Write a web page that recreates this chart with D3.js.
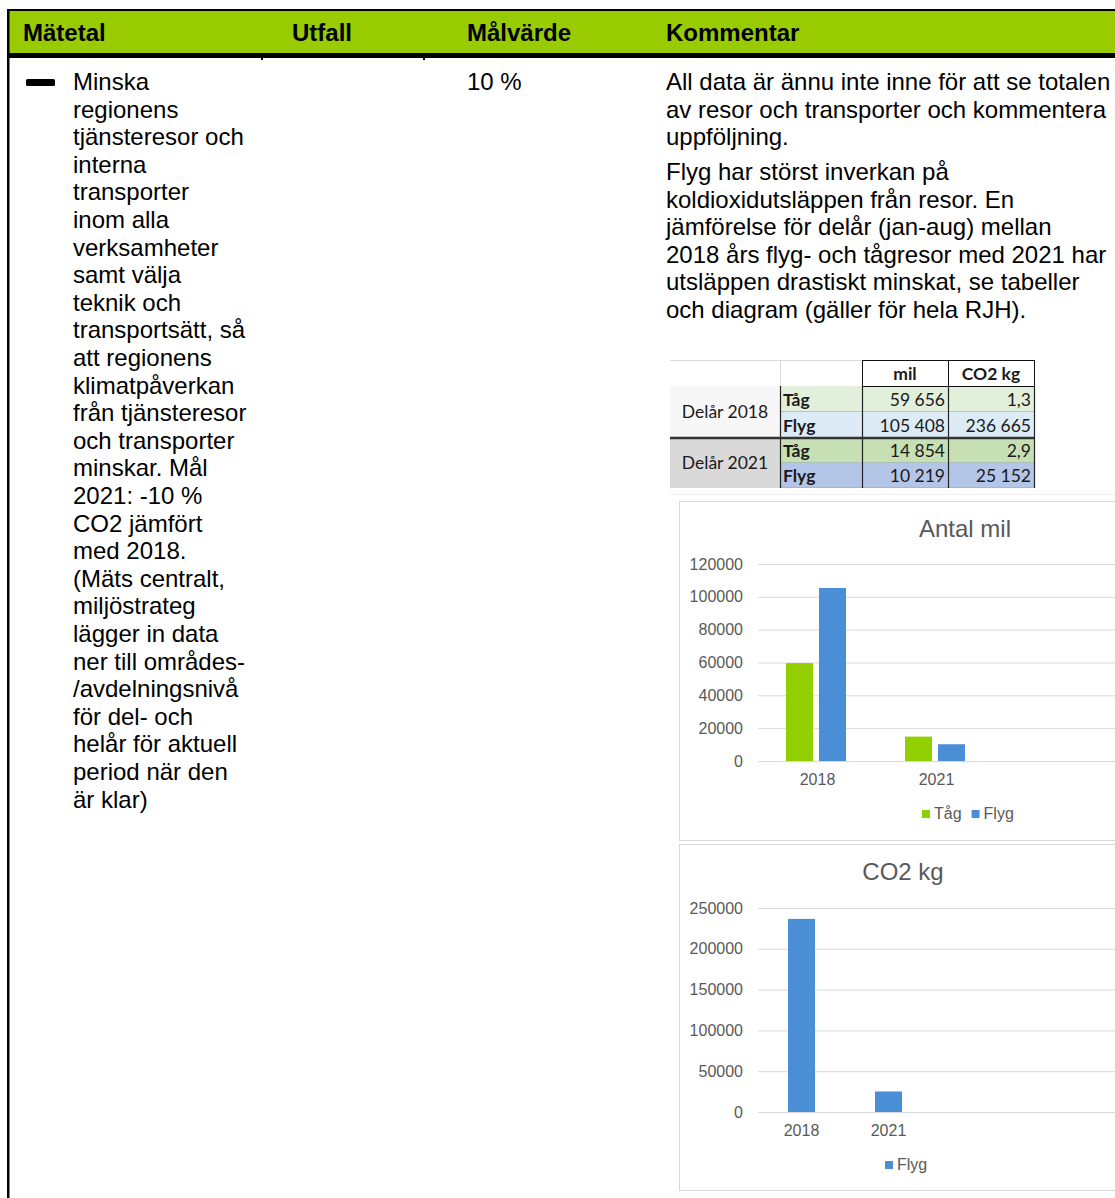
<!DOCTYPE html>
<html>
<head>
<meta charset="utf-8">
<script src="https://cdn.jsdelivr.net/npm/d3@7"></script>
<style>
  body { margin: 0; background: #fff; }
  svg { display: block; }
  .body-text { font-family: "Liberation Sans", Arial, sans-serif; font-size: 24px; fill: #000; }
  .chart-text { font-family: "Liberation Sans", Arial, sans-serif; fill: #595959; }
  .tbl { font-family: Lato, "Open Sans", sans-serif; font-size: 17.5px; fill: #1a1a1a; }
</style>
</head>
<body>
<svg id="svg" width="1115" height="1198"></svg>
<script>
// header columns
var headers = ["Mätetal", "Utfall", "Målvärde", "Kommentar"];

// left column text (wrapped as in the document)
var measureLines = ["Minska", "regionens", "tjänsteresor och", "interna", "transporter",
    "inom alla", "verksamheter", "samt välja", "teknik och", "transportsätt, så",
    "att regionens", "klimatpåverkan", "från tjänsteresor", "och transporter",
    "minskar. Mål", "2021: -10 %", "CO2 jämfört", "med 2018.", "(Mäts centralt,",
    "miljöstrateg", "lägger in data", "ner till områdes-", "/avdelningsnivå",
    "för del- och", "helår för aktuell", "period när den", "är klar)"];
var targetValue = "10 %";
var commentPara1 = ["All data är ännu inte inne för att se totalen",
    "av resor och transporter och kommentera", "uppföljning."];
var commentPara2 = ["Flyg har störst inverkan på", "koldioxidutsläppen från resor. En",
    "jämförelse för delår (jan-aug) mellan", "2018 års flyg- och tågresor med 2021 har",
    "utsläppen drastiskt minskat, se tabeller", "och diagram (gäller för hela RJH)."];

// data
var periods = ["Delår 2018", "Delår 2021"];
var years = ["2018", "2021"];
var modes = ["Tåg", "Flyg"];
var tagMil = [59656, 14854];
var flygMil = [105408, 10219];
var tagCO2 = [1.3, 2.9];
var flygCO2 = [236665, 25152];
var milTicks = [0, 20000, 40000, 60000, 80000, 100000, 120000];
var co2Ticks = [0, 50000, 100000, 150000, 200000, 250000];

var GREEN = "#92cf00";
var BLUE = "#4a8fd5";

var svg = d3.select("#svg");

// ---------- header ----------
var colX = [23, 292, 467, 666];
svg.append("rect").attr("x", 7).attr("y", 10).attr("width", 1115).attr("height", 44)
    .attr("fill", "#99cc00");
svg.append("rect").attr("x", 7).attr("y", 9).attr("width", 1115).attr("height", 2).attr("fill", "#000");
svg.append("rect").attr("x", 7).attr("y", 53).attr("width", 1115).attr("height", 5).attr("fill", "#000");
svg.append("rect").attr("x", 7).attr("y", 9).attr("width", 2.5).attr("height", 1189).attr("fill", "#000");
svg.selectAll(".hd").data(headers).enter().append("text")
    .attr("class", "body-text")
    .attr("x", (d, i) => colX[i])
    .attr("y", 41)
    .attr("font-weight", "bold")
    .text(d => d);
// small column stubs under header
[261, 423].forEach(x => {
    svg.append("rect").attr("x", x).attr("y", 58).attr("width", 2).attr("height", 2).attr("fill", "#000");
});

// ---------- body text ----------
var LH = 27.6;
svg.append("rect").attr("x", 26).attr("y", 79).attr("width", 29).attr("height", 7)
    .attr("rx", 1.5).attr("fill", "#000");
svg.append("text").attr("class", "body-text")
    .selectAll("tspan").data(measureLines).enter().append("tspan")
    .attr("x", 73).attr("y", (d, i) => 90 + i * LH).text(d => d);
svg.append("text").attr("class", "body-text").attr("x", 467).attr("y", 90).text(targetValue);
svg.append("text").attr("class", "body-text")
    .selectAll("tspan").data(commentPara1).enter().append("tspan")
    .attr("x", 666).attr("y", (d, i) => 90 + i * LH).text(d => d);
svg.append("text").attr("class", "body-text")
    .selectAll("tspan").data(commentPara2).enter().append("tspan")
    .attr("x", 666).attr("y", (d, i) => 180 + i * LH).text(d => d);

// ---------- table ----------
var nf = d3.formatLocale({decimal: ",", thousands: "\u00a0", grouping: [3]});
var fmtInt = nf.format(",d");
var fmtDec = nf.format(",.1f");
var tx = [670, 780, 862, 948, 1034];
var ty = [360, 386, 412, 438, 463, 488];
var rows = [];
periods.forEach((p, i) => {
    rows.push({period: p, mode: modes[0], mil: tagMil[i], co2: fmtDec(tagCO2[i]),
        bg: i == 0 ? "#e2efda" : "#c6e0b4"});
    rows.push({period: p, mode: modes[1], mil: flygMil[i], co2: fmtInt(flygCO2[i]),
        bg: i == 0 ? "#ddebf7" : "#b4c6e7"});
});
var tbl = svg.append("g");
tbl.append("rect").attr("x", tx[0]).attr("y", ty[0]).attr("width", tx[2] - tx[0]).attr("height", ty[1] - ty[0]).attr("fill", "#fff");
tbl.append("line").attr("x1", tx[0]).attr("x2", tx[2]).attr("y1", ty[0] + 0.5).attr("y2", ty[0] + 0.5).attr("stroke", "#d9d9d9");
tbl.append("line").attr("x1", tx[1] + 0.5).attr("x2", tx[1] + 0.5).attr("y1", ty[0]).attr("y2", ty[1]).attr("stroke", "#d9d9d9");
tbl.append("line").attr("x1", tx[0]).attr("x2", tx[1]).attr("y1", ty[1] + 0.5).attr("y2", ty[1] + 0.5).attr("stroke", "#bbb");
// period cells
periods.forEach((p, i) => {
    tbl.append("rect").attr("x", tx[0]).attr("y", ty[1 + i * 2]).attr("width", tx[1] - tx[0])
        .attr("height", ty[3 + i * 2] - ty[1 + i * 2]).attr("fill", i == 0 ? "#f7f7f7" : "#d9d9d9");
    tbl.append("text").attr("class", "tbl").attr("x", (tx[0] + tx[1]) / 2)
        .attr("y", ty[2 + i * 2] + 6).attr("text-anchor", "middle").text(p);
});
// data rows
rows.forEach((r, i) => {
    var y0 = ty[i + 1], h = ty[i + 2] - ty[i + 1];
    tbl.append("rect").attr("x", tx[1]).attr("y", y0).attr("width", tx[4] - tx[1]).attr("height", h).attr("fill", r.bg);
    tbl.append("line").attr("x1", tx[1]).attr("x2", tx[4]).attr("y1", y0 + h - 0.5).attr("y2", y0 + h - 0.5)
        .attr("stroke", "#9ab").attr("stroke-width", 0.6);
    tbl.append("text").attr("class", "tbl").attr("font-weight", "bold").attr("x", tx[1] + 3).attr("y", y0 + h - 6).text(r.mode);
    tbl.append("text").attr("class", "tbl").attr("text-anchor", "end").attr("x", tx[3] - 3).attr("y", y0 + h - 6).text(fmtInt(r.mil));
    tbl.append("text").attr("class", "tbl").attr("text-anchor", "end").attr("x", tx[4] - 3).attr("y", y0 + h - 6).text(r.co2);
});
// header cells
[["mil", 2], ["CO2 kg", 3]].forEach(c => {
    tbl.append("rect").attr("x", tx[c[1]] + 0.5).attr("y", ty[0] + 0.5).attr("width", tx[c[1] + 1] - tx[c[1]])
        .attr("height", ty[1] - ty[0]).attr("fill", "#fff").attr("stroke", "#111");
    tbl.append("text").attr("class", "tbl").attr("font-weight", "bold").attr("text-anchor", "middle")
        .attr("x", (tx[c[1]] + tx[c[1] + 1]) / 2).attr("y", ty[1] - 6).text(c[0]);
});
// vertical borders
[1, 2, 3, 4].forEach(k => {
    tbl.append("line").attr("x1", tx[k] + 0.5).attr("x2", tx[k] + 0.5).attr("y1", ty[1]).attr("y2", ty[5])
        .attr("stroke", "#222").attr("stroke-width", 1.2);
});
tbl.append("line").attr("x1", tx[0]).attr("x2", tx[4]).attr("y1", ty[3]).attr("y2", ty[3])
    .attr("stroke", "#333").attr("stroke-width", 2.5);
tbl.append("line").attr("x1", tx[0]).attr("x2", 1115).attr("y1", 494.5).attr("y2", 494.5).attr("stroke", "#eee");

// ---------- charts ----------
function barChart(opt) {
    var g = svg.append("g");
    g.append("rect").attr("x", opt.box[0] + 0.5).attr("y", opt.box[1] + 0.5)
        .attr("width", opt.box[2]).attr("height", opt.box[3])
        .attr("fill", "#fff").attr("stroke", "#d9d9d9");
    g.append("text").attr("class", "chart-text").attr("x", opt.titleX).attr("y", opt.titleY)
        .attr("text-anchor", "middle").attr("font-size", 24).text(opt.title);

    var y = d3.scaleLinear().domain(d3.extent(opt.ticks)).range(opt.yRange);
    var x = d3.scaleBand().domain(years).range([758, 758 + opt.band * years.length]);
    var inner = d3.scaleBand().domain(opt.series.map(s => s.name))
        .range([opt.inset, opt.inset + opt.series.length * opt.barW + (opt.series.length - 1) * opt.gap])
        .paddingInner(opt.gap / (opt.barW + opt.gap));

    var yAxis = d3.axisLeft(y).tickValues(opt.ticks).tickFormat(d3.format("d"))
        .tickSize(-(1115 - 758)).tickPadding(15);
    var ya = g.append("g").attr("transform", "translate(758,0)").call(yAxis);
    ya.select(".domain").remove();
    ya.selectAll(".tick line").attr("stroke", "#d9d9d9");
    ya.selectAll(".tick text").attr("class", "chart-text").attr("font-size", 16)
        .attr("font-family", "Liberation Sans, Arial, sans-serif").attr("fill", "#595959");

    opt.series.forEach(s => {
        g.selectAll(null).data(s.values).enter().append("rect")
            .attr("x", (d, i) => x(years[i]) + inner(s.name))
            .attr("y", d => y(d))
            .attr("width", opt.barW)
            .attr("height", d => y(0) - y(d))
            .attr("fill", s.color);
    });

    var xa = g.append("g").attr("transform", "translate(0," + y(0) + ")")
        .call(d3.axisBottom(x).tickSize(0).tickPadding(13));
    xa.select(".domain").remove();
    xa.selectAll(".tick text").attr("font-size", 16)
        .attr("font-family", "Liberation Sans, Arial, sans-serif").attr("fill", "#595959");

    // legend
    var lg = g.append("g").attr("transform", "translate(" + opt.legendX + "," + opt.legendY + ")");
    var lx = 0;
    opt.series.forEach(s => {
        lg.append("rect").attr("x", lx).attr("y", -9).attr("width", 8).attr("height", 8).attr("fill", s.color);
        var t = lg.append("text").attr("class", "chart-text").attr("x", lx + 12).attr("y", 0)
            .attr("font-size", 16).text(s.name);
        lx += 12 + t.node().getComputedTextLength() + 10;
    });
}

barChart({
    box: [679, 501, 440, 339], title: "Antal mil", titleX: 965, titleY: 537,
    ticks: milTicks, yRange: [761, 564], band: 119, inset: 28, barW: 27, gap: 6,
    series: [{name: modes[0], values: tagMil, color: GREEN}, {name: modes[1], values: flygMil, color: BLUE}],
    legendX: 922, legendY: 819
});
barChart({
    box: [679, 844, 440, 346], title: "CO2 kg", titleX: 903, titleY: 880,
    ticks: co2Ticks, yRange: [1112, 908], band: 87, inset: 30, barW: 27, gap: 0,
    series: [{name: modes[1], values: flygCO2, color: BLUE}],
    legendX: 885, legendY: 1170
});
</script>
</body>
</html>
